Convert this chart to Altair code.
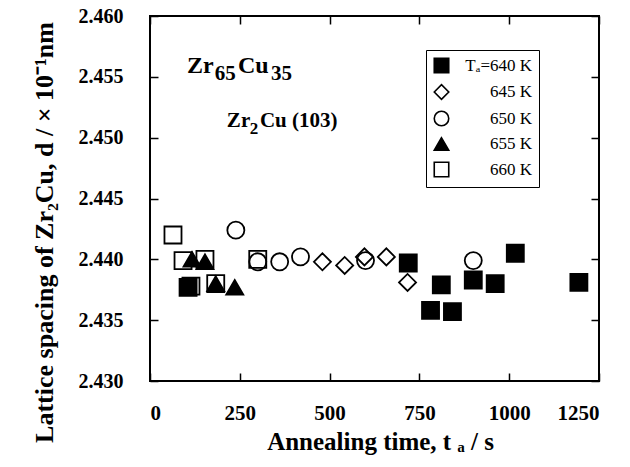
import altair as alt
import pandas as pd

# ---- data ----
series_labels = ["Tₐ=640 K", "645 K", "650 K", "655 K", "660 K"]
t640_x = [106, 719, 781, 811, 842, 900, 961, 1017, 1194]
t640_y = [2.4377, 2.4397, 2.4358, 2.4379, 2.4357, 2.4383, 2.4380, 2.4405, 2.4381]
t645_x = [480, 542, 597, 658, 717]
t645_y = [2.4398, 2.4395, 2.4402, 2.4402, 2.4381]
t650_x = [239, 300, 361, 419, 600, 900]
t650_y = [2.4424, 2.4398, 2.4398, 2.4402, 2.4399, 2.4399]
t655_x = [117, 153, 183, 236]
t655_y = [2.4400, 2.4398, 2.4380, 2.4377]
t660_x = [64, 92, 114, 153, 183, 300]
t660_y = [2.4420, 2.4399, 2.4378, 2.4400, 2.4380, 2.4400]

x_ticks = [0, 250, 500, 750, 1000, 1250]
y_ticks = [2.430, 2.435, 2.440, 2.445, 2.450, 2.455, 2.460]

# in-plot labels, split so the subscripts can be lowered like the original
annot_text = ["Zr", "65", "Cu", "35", "Zr", "2", "Cu (103)"]
annot_x = [103, 180, 245, 337, 214, 278, 306]
annot_y = [2.4553, 2.4547, 2.4553, 2.4547, 2.4509, 2.4503, 2.4509]
annot_size = [24, 21, 24, 21, 21, 17, 21]

shapes = ["square", "diamond", "circle", "triangle-up", "square"]
fills = ["black", "transparent", "transparent", "black", "transparent"]
strokes = ["black"] * 5

rows = []
for lab, xs, ys in zip(series_labels,
                       [t640_x, t645_x, t650_x, t655_x, t660_x],
                       [t640_y, t645_y, t650_y, t655_y, t660_y]):
    for a, b in zip(xs, ys):
        rows.append({"t": a, "d": b, "T": lab})
df = pd.DataFrame(rows)
ann = pd.DataFrame({"text": annot_text, "x": annot_x, "y": annot_y, "size": annot_size})

FONT = "Liberation Serif"
xscale = alt.Scale(domain=[0, 1250], nice=False, zero=False)
yscale = alt.Scale(domain=[2.430, 2.460], nice=False, zero=False)

base_axis = dict(domain=False, grid=False, ticks=True, tickSize=8, tickWidth=1.5,
                 tickColor="black", offset=-8, labelFont=FONT, labelFontWeight="bold",
                 labelColor="black", titleFont=FONT, titleFontWeight="bold", titleColor="black")

leg = dict(title=None, orient="none", legendX=276, legendY=34,
           strokeColor="black", padding=7, fillColor="white",
           labelFont=FONT, labelFontSize=17, labelColor="black", labelAlign="right",
           labelOffset=82, symbolSize=210, rowPadding=5.5, symbolStrokeWidth=1.6)

points = alt.Chart(df).mark_point(size=290, strokeWidth=1.8, opacity=1, filled=True).encode(
    x=alt.X("t:Q", scale=xscale,
            axis=alt.Axis(orient="bottom", values=x_ticks, format="d", labelFontSize=21,
                          labelPadding=21, title="Annealing time, t ₐ / s", titleFontSize=25,
                          titlePadding=6, titleX=230, **base_axis)),
    y=alt.Y("d:Q", scale=yscale,
            axis=alt.Axis(orient="left", values=y_ticks, format=".3f", labelFontSize=20,
                          labelPadding=27, title="Lattice spacing of Zr₂Cu, d / × 10⁻¹nm",
                          titleFontSize=26, titlePadding=21, titleY=216, **base_axis)),
    shape=alt.Shape("T:N", scale=alt.Scale(domain=series_labels, range=shapes),
                    legend=alt.Legend(**leg)),
    fill=alt.Fill("T:N", scale=alt.Scale(domain=series_labels, range=fills),
                  legend=alt.Legend(**leg)),
    stroke=alt.Stroke("T:N", scale=alt.Scale(domain=series_labels, range=strokes),
                      legend=alt.Legend(**leg)),
)

mirror_axis = dict(domain=False, grid=False, ticks=True, tickSize=8, tickWidth=1.5,
                   tickColor="black", offset=-8, labels=False, title=None)
mirror = alt.Chart(df).mark_point(opacity=0).encode(
    x=alt.X("t:Q", scale=xscale, axis=alt.Axis(orient="top", values=x_ticks, **mirror_axis)),
    y=alt.Y("d:Q", scale=yscale, axis=alt.Axis(orient="right", values=y_ticks, **mirror_axis)),
)

text = alt.Chart(ann).mark_text(font=FONT, fontWeight="bold", align="left",
                                baseline="alphabetic", color="black").encode(
    x=alt.X("x:Q", scale=xscale, axis=None),
    y=alt.Y("y:Q", scale=yscale, axis=None),
    text="text:N",
    size=alt.Size("size:Q", scale=None, legend=None),
)

chart = alt.layer(mirror, text, points).resolve_axis(x="independent", y="independent").properties(
    width=449, height=365,
    autosize=alt.AutoSizeParams(type="none"),
    padding={"left": 150, "top": 16, "right": 31, "bottom": 86},
    background="white",
).configure_view(stroke="black", strokeWidth=2)

chart.save("out.html", embed_options={"renderer": "svg", "actions": False})
